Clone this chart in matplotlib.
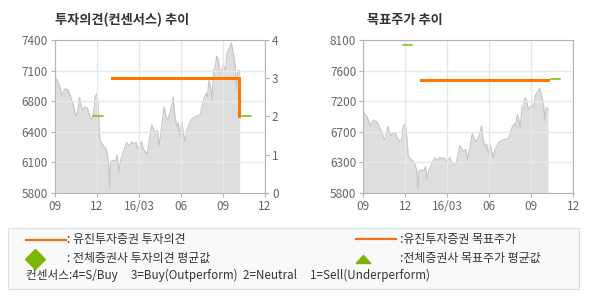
import numpy as np
import matplotlib
matplotlib.use("Agg")
import matplotlib.pyplot as plt
from matplotlib.lines import Line2D
from matplotlib.patches import Rectangle

plt.rcParams['font.family'] = ['Noto Sans CJK KR', 'DejaVu Sans']

# ------------------------------------------------------------
# Dados (x = meses desde 2015-09)
# ------------------------------------------------------------
price_m = [0.0, 0.17, 0.36, 0.48, 0.6, 0.74, 0.83, 0.95, 1.07, 1.19, 1.31, 1.5, 1.6,
           1.74, 1.83, 1.98, 2.14, 2.31, 2.45, 2.6, 2.74, 2.86, 3.02, 3.12, 3.21, 3.36,
           3.5, 3.64, 3.74, 3.83, 3.9, 3.98, 4.17, 4.33, 4.45, 4.55, 4.69, 4.83, 5.0,
           5.12, 5.31, 5.48, 5.6, 5.79, 5.93, 6.07, 6.19, 6.31, 6.45, 6.6, 6.74, 6.9,
           7.02, 7.17, 7.31, 7.45, 7.62, 7.79, 7.9, 8.05, 8.21, 8.33, 8.45, 8.55, 8.69,
           8.81, 8.93, 9.05, 9.17, 9.29, 9.4, 9.55, 9.69, 9.83, 10.0, 10.17, 10.36, 10.5,
           10.64, 10.79, 10.88, 11.0, 11.12, 11.21, 11.33, 11.45, 11.55, 11.67, 11.79,
           11.9, 12.02, 12.17, 12.29, 12.4, 12.5, 12.6, 12.69, 12.79, 12.88, 12.95,
           13.05, 13.14, 13.19]
price = [7010, 6980, 6900, 6810, 6860, 6890, 6880, 6875, 6825, 6770, 6720, 6600, 6630,
         6800, 6735, 6665, 6700, 6685, 6615, 6570, 6600, 6805, 6840, 6600, 6350, 6315,
         6280, 6265, 6195, 6105, 5845, 6125, 6140, 6130, 6195, 6010, 6140, 6205, 6280,
         6325, 6290, 6335, 6310, 6325, 6265, 6300, 6335, 6255, 6230, 6210, 6350, 6510,
         6475, 6420, 6455, 6300, 6490, 6700, 6615, 6560, 6630, 6700, 6805, 6615, 6490,
         6535, 6385, 6545, 6420, 6335, 6455, 6500, 6560, 6580, 6595, 6605, 6615, 6700,
         6790, 6840, 6805, 6980, 6895, 6770, 7085, 7120, 7230, 7190, 7045, 7085, 7140,
         7085, 7265, 7300, 7330, 7370, 7295, 7210, 7120, 6885, 7070, 7085, 7050]

opinion_m = [4.1, 13.14, 13.14]
opinion = [3, 3, 2]
opinion_avg_m = [[2.74, 3.4], [13.33, 13.98]]
opinion_avg = [2, 2]

target_m = [4.12, 13.17]
target = [7500, 7500]
target_avg_m = [[2.81, 3.48], [13.4, 14.05]]
target_avg = [8020, 7520]

tick_m = [0, 3, 6, 9, 12, 15]
tick_lbl = ["09", "12", "16/03", "06", "09", "12"]

ORANGE = "#ff7700"
LEG_ORANGE = "#f07010"
GREEN = "#7ab800"
GRAY_TXT = "#666666"
SPINE = "#b4b4b4"
GRID = "#e8e8e8"


def base_axes(ax, ylo, yhi):
    ax.fill_between(price_m, price, ylo, color="#dedede", lw=0, zorder=1)
    ax.plot(price_m, price, color="#c4c4c4", lw=0.8, zorder=2)
    ax.set_xlim(0, 15)
    ax.set_ylim(ylo, yhi)
    yt = np.linspace(ylo, yhi, 6)
    ax.set_yticks(yt)
    ax.set_yticklabels([f"{int(round(v, -2))}" for v in yt])
    ax.set_xticks(tick_m)
    ax.set_xticklabels(tick_lbl)
    ax.grid(True, color=GRID, lw=1.0, zorder=3)
    ax.set_axisbelow(False)
    for s in ax.spines.values():
        s.set_color(SPINE)
        s.set_zorder(4)
    ax.tick_params(colors=SPINE, labelcolor=GRAY_TXT, labelsize=8.5, length=3, width=0.8, pad=2)


fig = plt.figure(figsize=(5.9, 3.0), dpi=100)
W, H = 590, 300


def fy(p):
    return 1 - p / H


# ------------------------------------------------------------
# Grafico esquerdo: opinião de investimento
# ------------------------------------------------------------
ax1 = fig.add_axes([55 / W, 107.3 / H, 210 / W, 152.7 / H])
base_axes(ax1, 5800, 7400)
ax1b = ax1.twinx()
ax1b.set_ylim(0, 4)
ax1b.set_yticks([0, 1, 2, 3, 4])
ax1b.tick_params(colors=SPINE, labelcolor=GRAY_TXT, labelsize=8.5, length=3, width=0.8, pad=2)
for s in ax1b.spines.values():
    s.set_visible(False)
ax1b.plot(opinion_m, opinion, color=ORANGE, lw=2.2, solid_joinstyle="miter", zorder=5)
for xs, v in zip(opinion_avg_m, opinion_avg):
    ax1b.plot(xs, [v, v], color=GREEN, lw=1.1, zorder=5)

fig.text(55 / W, fy(20), "투자의견(컨센서스) 추이", fontsize=9.5,
         fontweight="bold", color="#333333", va="center", ha="left")

# ------------------------------------------------------------
# Grafico direito: preço-alvo
# ------------------------------------------------------------
ax2 = fig.add_axes([363.3 / W, 107.3 / H, 210 / W, 152.7 / H])
base_axes(ax2, 5800, 8100)
ax2.plot(target_m, target, color=ORANGE, lw=2.2, zorder=5)
for xs, v in zip(target_avg_m, target_avg):
    ax2.plot(xs, [v, v], color=GREEN, lw=1.1, zorder=5)

fig.text(367 / W, fy(20), "목표주가 추이", fontsize=9.5,
         fontweight="bold", color="#333333", va="center", ha="left")

# ------------------------------------------------------------
# Legenda
# ------------------------------------------------------------
fig.patches.append(Rectangle((8 / W, fy(289)), 571 / W, 61 / H, transform=fig.transFigure,
                             facecolor="#f9f9f9", edgecolor="#dddddd", lw=0.8))

fig.lines.append(Line2D([26 / W, 66 / W], [fy(240), fy(240)], color=LEG_ORANGE, lw=1.6,
                        transform=fig.transFigure))
fig.lines.append(Line2D([356 / W, 396 / W], [fy(239), fy(239)], color=LEG_ORANGE, lw=1.6,
                        transform=fig.transFigure))
fig.lines.append(Line2D([35 / W], [fy(259)], marker="D", markersize=10.5, color=GREEN, lw=0,
                        transform=fig.transFigure))
tri = [(-1, -0.55), (1, -0.55), (0, 0.55), (-1, -0.55)]
fig.lines.append(Line2D([363 / W], [fy(259)], marker=tri, markersize=10.5, color=GREEN, lw=0,
                        transform=fig.transFigure))

leg_kw = dict(fontsize=8.6, color="#333333", va="center", ha="left")
fig.text(67 / W, fy(240), ": 유진투자증권 투자의견", **leg_kw)
fig.text(67 / W, fy(258), ": 전체증권사 투자의견 평균값", **leg_kw)
fig.text(400 / W, fy(239), ":유진투자증권 목표주가", **leg_kw)
fig.text(400 / W, fy(258), ":전체증권사 목표주가 평균값", **leg_kw)
fig.text(26 / W, fy(275), "컨센서스:4=S/Buy     3=Buy(Outperform)  2=Neutral     1=Sell(Underperform)",
         fontsize=8.4, color="#333333", va="center", ha="left")

fig.savefig("out.png", dpi=100)
